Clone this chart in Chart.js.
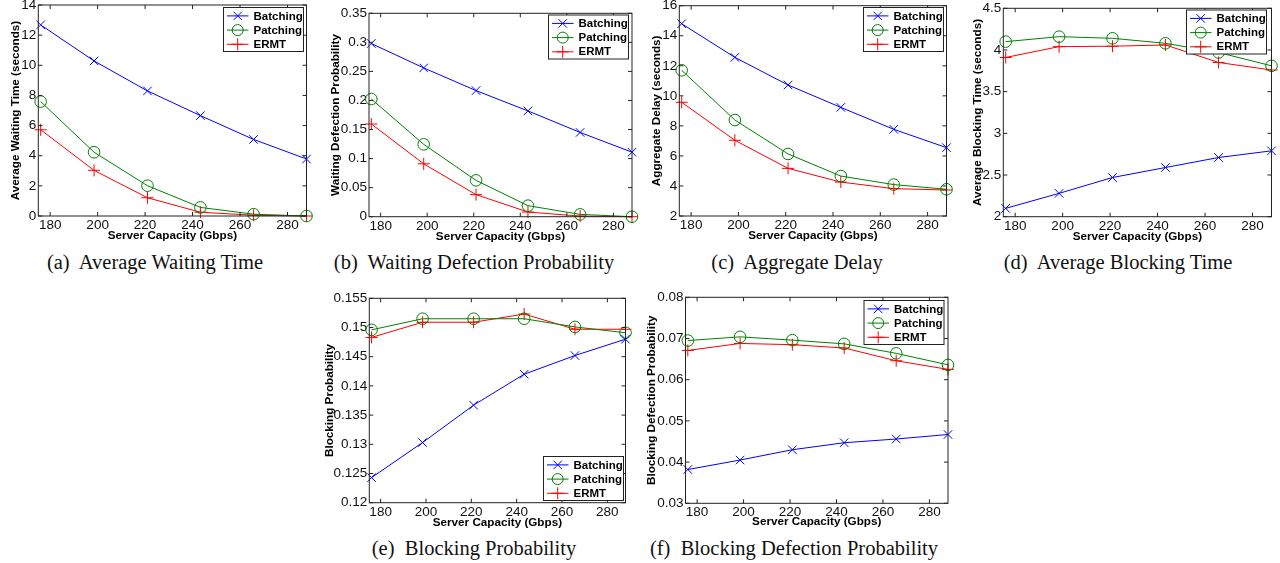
<!DOCTYPE html>
<html>
<head>
<meta charset="utf-8">
<script src="https://cdn.jsdelivr.net/npm/chart.js@4/dist/chart.umd.min.js"></script>
<style>
  html, body { margin: 0; padding: 0; background: #fff; }
  body { width: 1280px; height: 563px; overflow: hidden; position: relative; }
  canvas { position: absolute; }
  .cap { position: absolute; font-family: "Liberation Serif", "Times New Roman", serif; font-size: 20.5px;
         line-height: 1; color: #111; white-space: pre; transform: translateX(-50%); }
</style>
</head>
<body>
<div class="cap" style="left:155px;top:252px">(a)  Average Waiting Time</div>
<div class="cap" style="left:474px;top:252px">(b)  Waiting Defection Probability</div>
<div class="cap" style="left:797px;top:252px">(c)  Aggregate Delay</div>
<div class="cap" style="left:1118px;top:252px">(d)  Average Blocking Time</div>
<div class="cap" style="left:474px;top:538px">(e)  Blocking Probability</div>
<div class="cap" style="left:794px;top:538px">(f)  Blocking Defection Probability</div>
<script>
// server capaciteit op de x-as (Gbps), gedeeld door alle grafieken
const capacity = [176, 198.5, 221, 243.3, 265.7, 288];
const xTicks = [180, 200, 220, 240, 260, 280];
const seriesNames = ['Batching', 'Patching', 'ERMT'];

// (a) gemiddelde wachttijd
const waitBatching = [12.68, 10.29, 8.30, 6.66, 5.08, 3.78];
const waitPatching = [7.59, 4.23, 2.01, 0.57, 0.12, 0];
const waitErmt = [5.72, 3.03, 1.21, 0.25, 0.05, 0];
const waitTicks = [0, 2, 4, 6, 8, 10, 12, 14];

// (b) kans op afhaken tijdens wachten
const defectBatching = [0.298, 0.256, 0.217, 0.182, 0.145, 0.111];
const defectPatching = [0.2025, 0.1245, 0.0625, 0.019, 0.004, 0];
const defectErmt = [0.1595, 0.091, 0.038, 0.008, 0.001, 0];
const defectTicks = [0, 0.05, 0.1, 0.15, 0.2, 0.25, 0.3, 0.35];

// (c) totale vertraging
const delayBatching = [14.8, 12.56, 10.72, 9.23, 7.77, 6.55];
const delayPatching = [11.7, 8.39, 6.13, 4.66, 4.09, 3.78];
const delayErmt = [9.57, 7.04, 5.17, 4.26, 3.82, 3.73];
const delayTicks = [2, 4, 6, 8, 10, 12, 14, 16];

// (d) gemiddelde blokkeertijd
const blockTimeBatching = [2.10, 2.28, 2.47, 2.59, 2.71, 2.79];
const blockTimePatching = [4.10, 4.16, 4.14, 4.08, 3.97, 3.81];
const blockTimeErmt = [3.91, 4.04, 4.045, 4.06, 3.85, 3.76];
const blockTimeTicks = [2, 2.5, 3, 3.5, 4, 4.5];

// (e) blokkeerkans
const blockBatching = [0.1243, 0.1303, 0.1367, 0.1420, 0.1452, 0.1480];
const blockPatching = [0.1496, 0.1515, 0.1515, 0.1515, 0.1501, 0.1491];
const blockErmt = [0.1483, 0.1509, 0.1509, 0.1523, 0.1497, 0.1497];
const blockTicks = [0.12, 0.125, 0.13, 0.135, 0.14, 0.145, 0.15, 0.155];

// (f) kans op afhaken tijdens blokkeren
const blockDefBatching = [0.0382, 0.0405, 0.0430, 0.0447, 0.0456, 0.0467];
const blockDefPatching = [0.0695, 0.0704, 0.0696, 0.0687, 0.0664, 0.0636];
const blockDefErmt = [0.0671, 0.0688, 0.0685, 0.0677, 0.0646, 0.0625];
const blockDefTicks = [0.03, 0.04, 0.05, 0.06, 0.07, 0.08];

const FAMILY = "'Liberation Sans', Arial, Helvetica, sans-serif";
const TITLE_SIZE = 11.7;
const styles = [
  { color: '#0000ff', pointStyle: 'crossRot', radius: 6 },
  { color: '#008000', pointStyle: 'circle', radius: 5.8 },
  { color: '#ff0000', pointStyle: 'cross', radius: 6 }
];

// markertje tekenen voor de legenda
function marker(ctx, style, x, y) {
  ctx.beginPath();
  if (style === 'circle') {
    ctx.arc(x, y, 5.5, 0, Math.PI * 2);
  } else if (style === 'cross') {
    ctx.moveTo(x - 6, y); ctx.lineTo(x + 6, y);
    ctx.moveTo(x, y - 6); ctx.lineTo(x, y + 6);
  } else {
    ctx.moveTo(x - 4.2, y - 4.2); ctx.lineTo(x + 4.2, y + 4.2);
    ctx.moveTo(x - 4.2, y + 4.2); ctx.lineTo(x + 4.2, y - 4.2);
  }
  ctx.stroke();
}

function panel(p) {
  const [L, T, R, B] = p.plot;
  const tLeft = p.yTitleX - TITLE_SIZE * 0.6;
  const cLeft = Math.floor(tLeft - 2);
  const cTop = Math.floor(T - 14);
  const scaleBottom = p.xTitleY + TITLE_SIZE * 0.6;
  const cRight = Math.ceil(R + 14);
  const cBottom = Math.ceil(scaleBottom + 4);

  const cv = document.createElement('canvas');
  cv.width = cRight - cLeft;
  cv.height = cBottom - cTop;
  cv.style.left = cLeft + 'px';
  cv.style.top = cTop + 'px';
  document.body.appendChild(cv);

  // kader met naar binnen wijzende streepjes, zoals in matlab
  const frame = {
    id: 'frame',
    afterDatasetsDraw(chart) {
      const { ctx, chartArea: a, scales: { x, y } } = chart;
      ctx.save();
      ctx.strokeStyle = '#222';
      ctx.lineWidth = 1;
      ctx.strokeRect(a.left, a.top, a.right - a.left, a.bottom - a.top);
      ctx.beginPath();
      x.ticks.forEach(t => {
        const px = x.getPixelForValue(t.value);
        ctx.moveTo(px, a.bottom); ctx.lineTo(px, a.bottom - 4);
        ctx.moveTo(px, a.top); ctx.lineTo(px, a.top + 4);
      });
      y.ticks.forEach(t => {
        const py = y.getPixelForValue(t.value);
        ctx.moveTo(a.left, py); ctx.lineTo(a.left + 4, py);
        ctx.moveTo(a.right, py); ctx.lineTo(a.right - 4, py);
      });
      ctx.stroke();
      ctx.restore();
    }
  };

  // legenda in een wit kader
  const legendBox = {
    id: 'legendBox',
    afterDraw(chart) {
      const ctx = chart.ctx;
      const lx = p.legend[0] - cLeft, ly = p.legend[1] - cTop;
      ctx.save();
      ctx.fillStyle = '#fff';
      ctx.strokeStyle = '#222';
      ctx.lineWidth = 1;
      ctx.fillRect(lx, ly, 80, 44);
      ctx.strokeRect(lx, ly, 80, 44);
      ctx.font = 'bold 11.5px ' + FAMILY;
      ctx.textBaseline = 'middle';
      chart.data.datasets.forEach((ds, i) => {
        const ry = ly + 8.4 + i * 14.2;
        ctx.strokeStyle = ds.borderColor;
        ctx.beginPath();
        ctx.moveTo(lx + 3.5, ry); ctx.lineTo(lx + 25, ry);
        ctx.stroke();
        marker(ctx, ds.pointStyle, lx + 14.2, ry);
        ctx.fillStyle = '#000';
        ctx.fillText(ds.label, lx + 30, ry + 0.5);
      });
      ctx.restore();
    }
  };

  const tickFont = { family: FAMILY, size: 13.5 };
  const titleFont = { family: FAMILY, size: TITLE_SIZE, weight: 'bold' };

  new Chart(cv, {
    type: 'line',
    data: {
      datasets: seriesNames.map((name, i) => ({
        label: name,
        data: capacity.map((c, k) => ({ x: c, y: p.values[i][k] })),
        borderColor: styles[i].color,
        backgroundColor: 'transparent',
        pointBorderColor: styles[i].color,
        pointBackgroundColor: 'transparent',
        pointStyle: styles[i].pointStyle,
        pointRadius: styles[i].radius,
        pointBorderWidth: 1,
        borderWidth: 1,
        tension: 0,
        clip: false
      }))
    },
    options: {
      responsive: false,
      animation: false,
      events: [],
      layout: { padding: { left: tLeft - cLeft, top: T - cTop, right: cRight - R, bottom: cBottom - scaleBottom } },
      plugins: { legend: { display: false }, tooltip: { enabled: false } },
      scales: {
        x: {
          type: 'linear', min: 175, max: 288,
          afterBuildTicks: s => { s.ticks = xTicks.map(v => ({ value: v })); },
          afterFit: s => { s.height = scaleBottom - B; },
          grid: { display: false, drawTicks: false },
          border: { display: false },
          ticks: { font: tickFont, color: '#111', padding: 1, maxRotation: 0, autoSkip: false, callback: v => String(v) },
          title: { display: true, text: 'Server Capacity (Gbps)', font: titleFont, color: '#000', padding: 0 }
        },
        y: {
          type: 'linear', min: p.ticks[0], max: p.ticks[p.ticks.length - 1],
          afterBuildTicks: s => { s.ticks = p.ticks.map(v => ({ value: v })); },
          afterFit: s => { s.width = L - tLeft; },
          grid: { display: false, drawTicks: false },
          border: { display: false },
          ticks: { font: tickFont, color: '#111', padding: 2, autoSkip: false, callback: v => String(v) },
          title: { display: true, text: p.yTitle, font: titleFont, color: '#000', padding: 0 }
        }
      }
    },
    plugins: [frame, legendBox]
  });
}

panel({ plot: [38.3, 5, 306.5, 216], yTitleX: 16, xTitleY: 235.5, yTitle: 'Average Waiting Time (seconds)',
        ticks: waitTicks, values: [waitBatching, waitPatching, waitErmt], legend: [223.5, 7.5] });
panel({ plot: [369, 13.3, 632, 216.7], yTitleX: 336, xTitleY: 236.5, yTitle: 'Waiting Defection Probability',
        ticks: defectTicks, values: [defectBatching, defectPatching, defectErmt], legend: [548.5, 15] });
panel({ plot: [679.3, 5.7, 946.5, 216], yTitleX: 656.7, xTitleY: 235.5, yTitle: 'Aggregate Delay (seconds)',
        ticks: delayTicks, values: [delayBatching, delayPatching, delayErmt], legend: [863.5, 7.5] });
panel({ plot: [1003.3, 8.3, 1271.5, 216.7], yTitleX: 978, xTitleY: 236.5, yTitle: 'Average Blocking Time (seconds)',
        ticks: blockTimeTicks, values: [blockTimeBatching, blockTimePatching, blockTimeErmt], legend: [1186.5, 10] });
panel({ plot: [369.3, 298.3, 625.5, 502.7], yTitleX: 330, xTitleY: 522.3, yTitle: 'Blocking Probability',
        ticks: blockTicks, values: [blockBatching, blockPatching, blockErmt], legend: [543.5, 456.5] });
panel({ plot: [685.5, 297.3, 948, 503.3], yTitleX: 651.7, xTitleY: 522, yTitle: 'Blocking Defection Probability',
        ticks: blockDefTicks, values: [blockDefBatching, blockDefPatching, blockDefErmt], legend: [864, 300.5] });
</script>
</body>
</html>
